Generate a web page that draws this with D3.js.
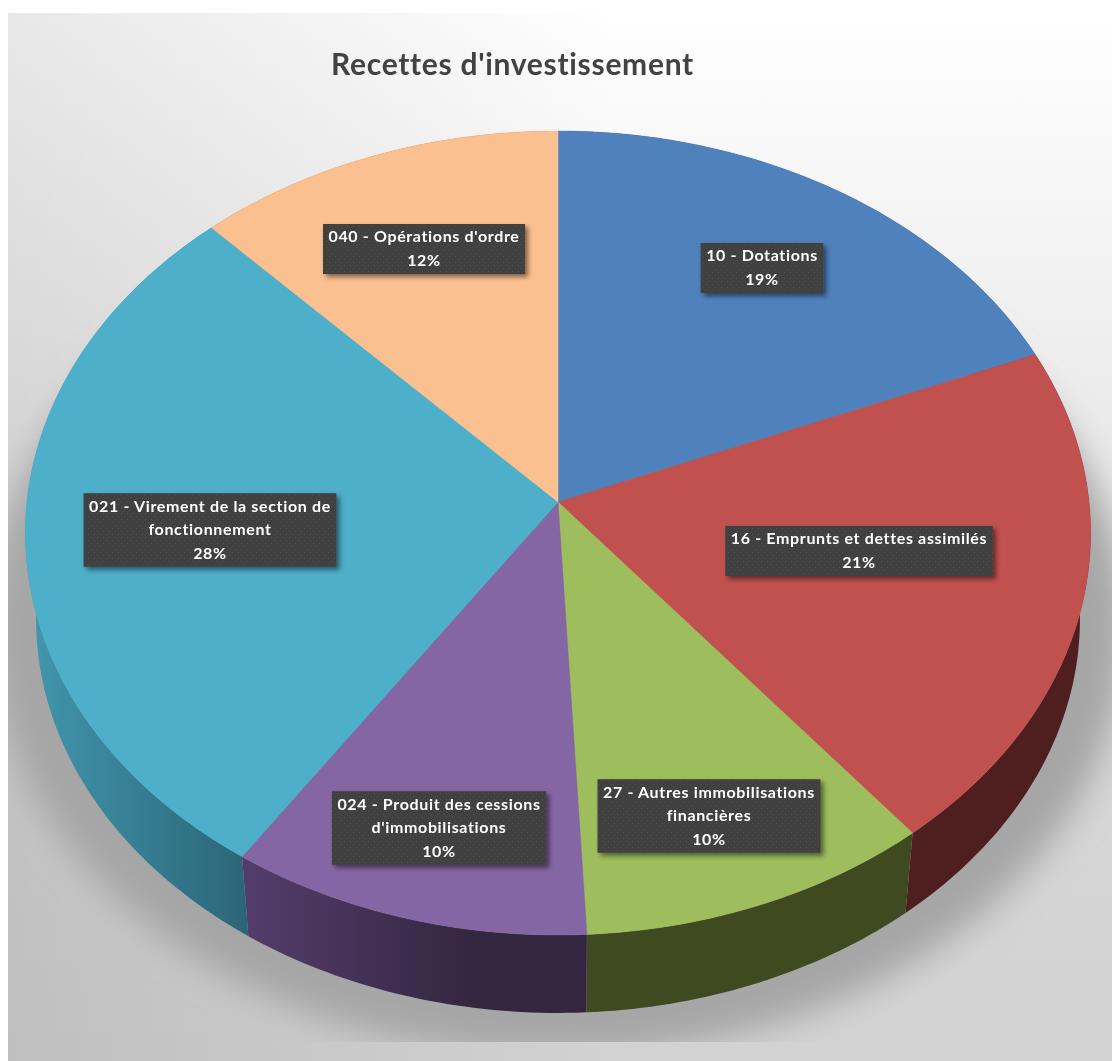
<!DOCTYPE html>
<html>
<head>
<meta charset="utf-8">
<script src="https://cdnjs.cloudflare.com/ajax/libs/d3/7.8.5/d3.min.js"></script>
<style>
html,body{margin:0;padding:0;background:#fff;overflow:hidden}
svg{display:block}
text{font-variant-ligatures:none}
</style>
</head>
<body>
<script>
// data
var categories = ["10 - Dotations","16 - Emprunts et dettes assimilés","27 - Autres immobilisations financières","024 - Produit des cessions d'immobilisations","021 - Virement de la section de fonctionnement","040 - Opérations d'ordre"];
var shares = [18.8,20.4,10.0,10.2,28.5,12.1];
var percentLabels = ["19%","21%","10%","10%","28%","12%"];
var title = "Recettes d'investissement";

// layout, colours
var labelLines = [["10 - Dotations"],["16 - Emprunts et dettes assimilés"],["27 - Autres immobilisations","financières"],["024 - Produit des cessions","d'immobilisations"],["021 - Virement de la section de","fonctionnement"],["040 - Opérations d'ordre"]];
var labelCentres = [[762,268],[859,551],[709,816],[439,828],[210,530],[424,249]];
var topColours = ["#4f81bd","#c0514f","#9ebd5c","#8466a5","#4dafc9","#fbc090"];
var wallStart = ["#2f4d72","#4e1f1e","#3f4a20","#533c6b","#4196ae","#8f5a2c"];
var wallEnd = ["#2f4d72","#4e1f1e","#3f4a20","#33263f","#2b6576","#8f5a2c"];

var W = 1112, H = 1061;
var svg = d3.select("body").append("svg").attr("width",W).attr("height",H);
var defs = svg.append("defs");

var bg = defs.append("linearGradient").attr("id","bg").attr("gradientUnits","userSpaceOnUse")
	.attr("x1",0).attr("x2",0).attr("y1",13).attr("y2",H);
[[0,"#ffffff"],[0.28,"#f0f0f0"],[0.47,"#e6e6e6"],[0.75,"#d6d6d6"],[1,"#d2d2d2"]].forEach(function(s){
	bg.append("stop").attr("offset",s[0]).attr("stop-color",s[1]);
});
var bgLeft = defs.append("linearGradient").attr("id","bgLeft").attr("gradientUnits","userSpaceOnUse")
	.attr("x1",8).attr("x2",620).attr("y1",0).attr("y2",0);
bgLeft.append("stop").attr("offset",0).attr("stop-color","#000").attr("stop-opacity",0.09);
bgLeft.append("stop").attr("offset",1).attr("stop-color","#000").attr("stop-opacity",0);

defs.append("filter").attr("id","blurShadow").attr("x","-10%").attr("y","-10%").attr("width","120%").attr("height","120%")
	.append("feGaussianBlur").attr("stdDeviation",17);
defs.append("filter").attr("id","boxShadow").attr("x","-10%").attr("y","-20%").attr("width","120%").attr("height","140%")
	.append("feDropShadow").attr("dx",3).attr("dy",3).attr("stdDeviation",2.5).attr("flood-color","#000").attr("flood-opacity",0.5);
defs.append("filter").attr("id","soft").attr("x","-5%").attr("y","-20%").attr("width","110%").attr("height","140%")
	.append("feGaussianBlur").attr("stdDeviation",0.55);
defs.append("clipPath").attr("id","shadowClip").append("rect").attr("x",8).attr("y",13).attr("width",W-8).attr("height",1042-13);
var pat = defs.append("pattern").attr("id","dots").attr("patternUnits","userSpaceOnUse").attr("width",6).attr("height",6);
pat.append("rect").attr("width",6).attr("height",6).attr("fill","#3f3f3f");
pat.append("circle").attr("cx",1.5).attr("cy",1.5).attr("r",0.7).attr("fill","#505050");
pat.append("circle").attr("cx",4.5).attr("cy",4.5).attr("r",0.7).attr("fill","#505050");

// tilted disc: circle seen in perspective, so the centre sits above the middle of the ellipse
var apex = {x:558,y:502}, persp = -0.0771, ax = 531, by = 399.6;
var depth = 86, shrink = 0.98, midX = 559, midY = 533;

function topPoint(angle,f){
	var x = f*Math.sin(angle), y = -f*Math.cos(angle), d = 1+persp*y;
	return [apex.x+ax*x/d, apex.y+by*y/d];
}
function bottomPoint(angle){
	var p = topPoint(angle,1);
	return [midX+shrink*(p[0]-midX), midY+depth+shrink*(p[1]-midY)];
}
function arcAngles(s){
	var n = Math.ceil((s.endAngle-s.startAngle)*60);
	return d3.range(n+1).map(function(i){ return s.startAngle+(s.endAngle-s.startAngle)*i/n; });
}

var slices = d3.pie().sort(null).value(function(d){ return d; })(shares);
var line = d3.line();

slices.forEach(function(s,i){
	var a = bottomPoint(s.startAngle), b = bottomPoint(s.endAngle);
	var g = defs.append("linearGradient").attr("id","wall"+i).attr("gradientUnits","userSpaceOnUse")
		.attr("x1",Math.min(a[0],b[0])).attr("x2",i==3?480:Math.max(a[0],b[0])).attr("y1",0).attr("y2",0);
	if(i==4){ g.attr("x1",30).attr("x2",250); }
	if(i==3){ g.attr("x1",247); }
	g.append("stop").attr("offset",0).attr("stop-color",wallStart[i]);
	g.append("stop").attr("offset",1).attr("stop-color",wallEnd[i]);
});

svg.append("rect").attr("x",8).attr("y",13).attr("width",W-8).attr("height",H-13).attr("fill","url(#bg)");
svg.append("rect").attr("x",8).attr("y",13).attr("width",W-8).attr("height",H-13).attr("fill","url(#bgLeft)");

// shadow under the pie, a bit wider than the disc
var shadowPts = d3.range(0,361,2).map(function(a){
	var p = bottomPoint(a*Math.PI/180);
	return [midX+1.09*(p[0]-midX), midY+depth+8+1.09*(p[1]-midY-depth)];
});
svg.append("g").attr("clip-path","url(#shadowClip)")
	.append("path").attr("d",line(shadowPts)+"Z").attr("fill","#a6a6a6").attr("filter","url(#blurShadow)");

// side wall
svg.append("g").selectAll("path").data(slices).enter().append("path")
	.attr("fill",function(d,i){ return "url(#wall"+i+")"; })
	.attr("d",function(d){
		var as = arcAngles(d);
		var pts = as.map(function(a){ return topPoint(a,1); }).concat(as.slice().reverse().map(bottomPoint));
		return line(pts)+"Z";
	});

// top surface
svg.append("g").selectAll("path").data(slices).enter().append("path")
	.attr("fill",function(d,i){ return topColours[i]; })
	.attr("stroke",function(d,i){ return topColours[i]; })
	.attr("stroke-width",0.5)
	.attr("d",function(d){
		var pts = [[apex.x,apex.y]].concat(arcAngles(d).map(function(a){ return topPoint(a,1); }));
		return line(pts)+"Z";
	});

svg.append("text").attr("x",512.5).attr("y",75).attr("text-anchor","middle")
	.attr("font-family","Lato").attr("font-weight",700).attr("font-size",30).attr("letter-spacing",0.7)
	.attr("fill","#424242").attr("filter","url(#soft)").text(title);

// data labels
var lineGap = 23.5, pad = 5.5;
var labels = svg.append("g").selectAll("g").data(categories).enter().append("g")
	.attr("transform",function(d,i){ return "translate("+labelCentres[i][0]+","+labelCentres[i][1]+")"; });
labels.each(function(d,i){
	var g = d3.select(this);
	var rows = labelLines[i].concat([percentLabels[i]]);
	var box = g.append("rect").attr("fill","url(#dots)").attr("filter","url(#boxShadow)");
	var txt = g.append("text").attr("text-anchor","middle").attr("font-family","Lato").attr("font-weight",700)
		.attr("font-size",16).attr("letter-spacing",0.65).attr("fill","#fff").attr("filter","url(#soft)");
	rows.forEach(function(r,j){
		txt.append("tspan").attr("x",0).attr("y",(j-(rows.length-1)/2)*lineGap+5).text(r);
	});
	var w = txt.node().getBBox().width+pad*2, h = rows.length*lineGap+3;
	box.attr("x",-w/2).attr("y",-h/2).attr("width",w).attr("height",h);
});
</script>
</body>
</html>
